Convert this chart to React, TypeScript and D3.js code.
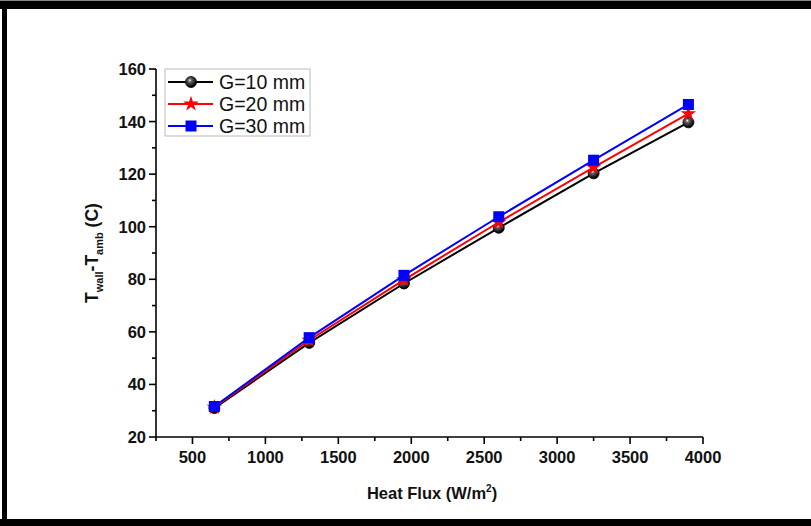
import React from "react";
import * as d3 from "d3";

const heatFlux = [650, 1300, 1950, 2600, 3250, 3900];
const g10 = [31.0, 55.8, 78.4, 99.6, 120.3, 139.7];
const g20 = [31.3, 56.8, 79.8, 101.7, 122.6, 143.0];
const g30 = [31.6, 57.8, 81.5, 103.8, 125.3, 146.5];
const seriesNames = ["G=10 mm", "G=20 mm", "G=30 mm"];
const xTicks = [500, 1000, 1500, 2000, 2500, 3000, 3500, 4000];
const yTicks = [20, 40, 60, 80, 100, 120, 140, 160];

const W = 811;
const H = 526;
const x = d3.scaleLinear().domain([250, 4000]).range([156, 703]);
const y = d3.scaleLinear().domain([20, 160]).range([437, 69]);

const series = [
  { name: seriesNames[0], values: g10, color: "#000000", marker: "circle" },
  { name: seriesNames[1], values: g20, color: "#ff0000", marker: "star" },
  { name: seriesNames[2], values: g30, color: "#0000ff", marker: "square" },
];

const starPath = d3.symbol().type(d3.symbolStar).size(75)() as string;

function Marker({ kind, cx, cy }: { kind: string; cx: number; cy: number }) {
  if (kind === "circle") {
    return <circle cx={cx} cy={cy} r={5.5} fill="url(#ballGrad)" stroke="#000" strokeWidth={0.8} />;
  }
  if (kind === "star") {
    return <path d={starPath} transform={`translate(${cx},${cy})`} fill="#ff0000" />;
  }
  return <rect x={cx - 5.5} y={cy - 5.5} width={11} height={11} fill="#0000ff" />;
}

export default function App() {
  const xMinor = d3.range(250, 4001, 250).filter((v) => v % 500 !== 0);
  const yMinor = d3.range(30, 160, 20);
  const line = d3
    .line<number>()
    .x((_, i) => x(heatFlux[i]))
    .y((d) => y(d));
  const font = "Arial, 'Liberation Sans', sans-serif";
  return (
    <svg
      width={W}
      height={H}
      style={{ position: "absolute", left: 0, top: 0, background: "#fff" }}
      fontFamily={font}
    >
      <defs>
        <radialGradient id="ballGrad" cx="40%" cy="35%" r="60%">
          <stop offset="0%" stopColor="#ffffff" />
          <stop offset="25%" stopColor="#666666" />
          <stop offset="100%" stopColor="#000000" />
        </radialGradient>
      </defs>
      <rect x={0} y={0} width={W} height={H} fill="#fff" />
      {/* frame */}
      <rect x={0} y={0} width={W} height={1} fill="#888" />
      <rect x={0} y={1} width={W} height={8} fill="#000" />
      <rect x={2} y={1} width={5} height={H - 1} fill="#000" />
      <rect x={0} y={519} width={W} height={7} fill="#000" />

      {/* axes */}
      <g stroke="#000" strokeWidth={1.6}>
        <line x1={x(250)} x2={x(4000)} y1={y(20)} y2={y(20)} />
        <line x1={x(250)} x2={x(250)} y1={y(20)} y2={y(160)} />
        {xTicks.map((t) => (
          <line key={"xt" + t} x1={x(t)} x2={x(t)} y1={y(20)} y2={y(20) + 7} />
        ))}
        {xMinor.map((t) => (
          <line key={"xm" + t} x1={x(t)} x2={x(t)} y1={y(20)} y2={y(20) + 4} />
        ))}
        {yTicks.map((t) => (
          <line key={"yt" + t} x1={x(250) - 7} x2={x(250)} y1={y(t)} y2={y(t)} />
        ))}
        {yMinor.map((t) => (
          <line key={"ym" + t} x1={x(250) - 4} x2={x(250)} y1={y(t)} y2={y(t)} />
        ))}
      </g>
      <g fontSize={16.5} fontWeight="bold" fill="#111">
        {xTicks.map((t) => (
          <text key={"xl" + t} x={x(t)} y={y(20) + 26} textAnchor="middle">
            {t}
          </text>
        ))}
        {yTicks.map((t) => (
          <text key={"yl" + t} x={x(250) - 10} y={y(t) + 6} textAnchor="end">
            {t}
          </text>
        ))}
      </g>
      <text x={432} y={499} textAnchor="middle" fontSize={16.5} fontWeight="bold" fill="#111">
        Heat Flux (W/m<tspan dy={-7} fontSize={10}>2</tspan>
        <tspan dy={7}>)</tspan>
      </text>
      <text
        transform={`translate(98,${y(90)}) rotate(-90)`}
        textAnchor="middle"
        fontSize={17.5}
        fontWeight="bold"
        fill="#111"
      >
        T<tspan dy={5} fontSize={11}>wall</tspan>
        <tspan dy={-5}>-T</tspan>
        <tspan dy={5} fontSize={11}>amb</tspan>
        <tspan dy={-5}> (C)</tspan>
      </text>

      {/* series */}
      {series.map((s) => (
        <g key={s.name}>
          <path d={line(s.values) as string} fill="none" stroke={s.color} strokeWidth={2} />
          {s.values.map((v, i) => (
            <Marker key={i} kind={s.marker} cx={x(heatFlux[i])} cy={y(v)} />
          ))}
        </g>
      ))}

      {/* legend */}
      <rect x={165} y={69} width={145} height={67} fill="#fff" stroke="#bbb" strokeWidth={1} />
      {series.map((s, i) => {
        const ly = 82 + i * 22;
        return (
          <g key={"lg" + s.name}>
            <line x1={168} x2={213} y1={ly} y2={ly} stroke={s.color} strokeWidth={2} />
            <Marker kind={s.marker} cx={191} cy={ly} />
            <text x={219} y={ly + 7} fontSize={19.5} fill="#111">
              {s.name}
            </text>
          </g>
        );
      })}
    </svg>
  );
}
